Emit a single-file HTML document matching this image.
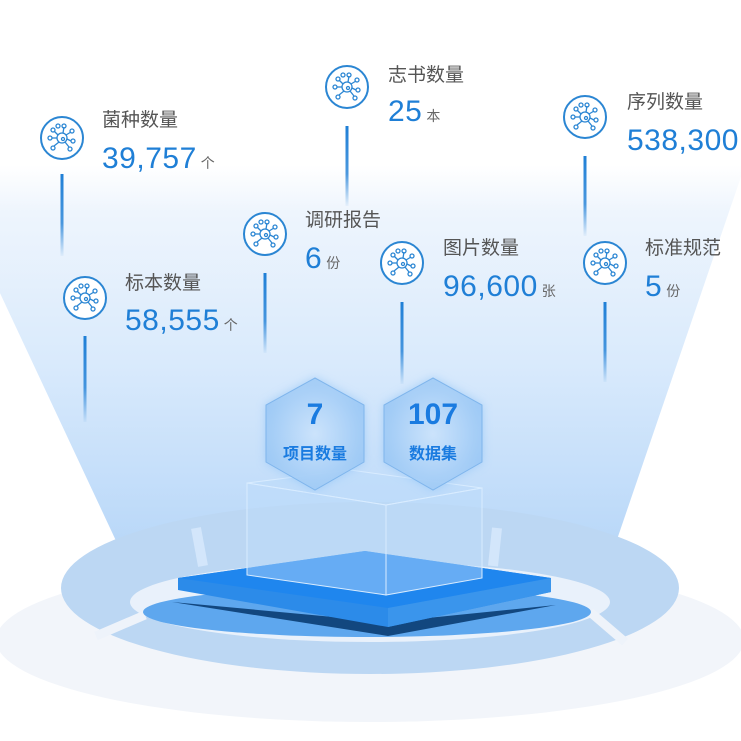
<!DOCTYPE html>
<html><head><meta charset="utf-8"><style>
body{margin:0;width:741px;height:741px;overflow:hidden;background:#fff;position:relative;font-family:"Liberation Sans","Noto Sans CJK SC",sans-serif}
svg{position:absolute;left:0;top:0}
.l{position:absolute;font-size:19px;color:#555;white-space:nowrap}
.v{position:absolute;font-size:30px;color:#1f7fd6;white-space:nowrap;letter-spacing:0.5px}
.v small{font-size:14px;color:#666;margin-left:4px}
</style></head><body>
<svg width="741" height="741" viewBox="0 0 741 741">
<defs>
<linearGradient id="beam" x1="0" y1="0" x2="0" y2="1">
<stop offset="0" stop-color="#ffffff"/><stop offset="0.12" stop-color="#eef5fd"/><stop offset="0.5" stop-color="#d9eafc"/><stop offset="1" stop-color="#b6d6f8"/></linearGradient>
<linearGradient id="ln" x1="0" y1="0" x2="0" y2="1"><stop offset="0" stop-color="#1f7fd6"/><stop offset="0.6" stop-color="#1f7fd6" stop-opacity="0.8"/><stop offset="1" stop-color="#1f7fd6" stop-opacity="0.05"/></linearGradient>
<radialGradient id="hx" cx="0.5" cy="0.5" r="0.6"><stop offset="0" stop-color="#d3e7fc"/><stop offset="1" stop-color="#94c4f4"/></radialGradient>
<filter id="gl"><feGaussianBlur stdDeviation="5"/></filter>
<g id="ic">
<circle r="21" fill="#fff" stroke="#2b86d3" stroke-width="2"/>
<g stroke="#2b86d3" stroke-width="1.3" fill="none">
<circle r="5"/><circle cx="1" cy="1" r="1.5"/>
<line x1="-4" y1="-3" x2="-8" y2="-7"/><line x1="1" y1="-5" x2="2" y2="-11"/><line x1="4" y1="-3" x2="9" y2="-6"/><line x1="5" y1="1" x2="9" y2="3"/><line x1="3" y1="4" x2="7" y2="9"/><line x1="-3" y1="4" x2="-8" y2="8"/><line x1="-5" y1="0" x2="-10" y2="0"/>
<circle cx="-9" cy="-8" r="2"/><circle cx="2" cy="-12" r="2"/><circle cx="10" cy="-7" r="2"/><circle cx="11" cy="3" r="2"/><circle cx="8" cy="11" r="2"/><circle cx="-9" cy="10" r="2"/><circle cx="-12" cy="0" r="2"/><circle cx="-4" cy="-12" r="2"/>
</g></g>
</defs>
<ellipse cx="370" cy="640" rx="374" ry="82" fill="#f2f5fa"/>
<polygon points="-60,165 745,165 610,560 125,560" fill="url(#beam)"/>
<ellipse cx="370" cy="602" rx="240" ry="40" fill="#e9f1fb"/>
<path fill-rule="evenodd" fill="#bcd7f3" d="M61,588 A309,86 0 1 0 679,588 A309,86 0 1 0 61,588 Z M130,602 A240,40 0 1 0 610,602 A240,40 0 1 0 130,602 Z"/>
<g stroke="#eef3fa" stroke-width="9">
<line x1="96" y1="636" x2="145" y2="615"/><line x1="590" y1="612" x2="625" y2="642"/>
</g>
<g stroke="#d3e6fb" stroke-width="10">
<line x1="196" y1="528" x2="203" y2="566"/><line x1="497" y1="528" x2="493" y2="566"/>
</g>
<ellipse cx="367" cy="612" rx="224" ry="25" fill="#5ea7ee"/>
<polygon points="172,602 388,636 556,605 388,622" fill="#12477f"/>
<polygon points="178,578 365,551 551,578 551,592 388,627 178,590" fill="#2c8be9"/>
<polygon points="178,578 365,551 551,578 388,608" fill="#1f86ee"/>
<polygon points="388,608 551,578 551,592 388,627" fill="#3a95ec"/>
<g fill="#bcdcfb" fill-opacity="0.45" stroke="#d9ecff" stroke-width="1">
<polygon points="247,483 350,470 482,488 386,505"/>
<polygon points="247,483 386,505 386,595 247,575"/>
<polygon points="386,505 482,488 482,578 386,595"/>
</g>
<g fill="#8fc3f7" opacity="0.7" filter="url(#gl)">
<polygon points="315,378 364,405 364,462 315,490 266,462 266,405"/>
<polygon points="433,378 482,405 482,462 433,490 384,462 384,405"/>
</g>
<g stroke="#7fb5ec" stroke-width="1" fill="url(#hx)" fill-opacity="0.85">
<polygon points="315,378 364,405 364,462 315,490 266,462 266,405"/>
<polygon points="433,378 482,405 482,462 433,490 384,462 384,405"/>
</g>
<g fill="url(#ln)">
<rect x="60.5" y="174" width="3" height="82"/><rect x="83.5" y="336" width="3" height="86"/>
<rect x="263.5" y="273" width="3" height="80"/><rect x="345.5" y="126" width="3" height="80"/>
<rect x="400.5" y="302" width="3" height="82"/><rect x="583.5" y="156" width="3" height="80"/>
<rect x="603.5" y="302" width="3" height="80"/>
</g>
<use href="#ic" x="62" y="138"/><use href="#ic" x="85" y="298"/><use href="#ic" x="265" y="234"/>
<use href="#ic" x="347" y="87"/><use href="#ic" x="402" y="263"/><use href="#ic" x="585" y="117"/><use href="#ic" x="605" y="263"/>
</svg>
<div class="l" style="left:102px;top:105px">菌种数量</div><div class="v" style="left:102px;top:142px">39,757<small>个</small></div>
<div class="l" style="left:125px;top:268px">标本数量</div><div class="v" style="left:125px;top:304px">58,555<small>个</small></div>
<div class="l" style="left:305px;top:205px">调研报告</div><div class="v" style="left:305px;top:242px">6<small>份</small></div>
<div class="l" style="left:388px;top:60px">志书数量</div><div class="v" style="left:388px;top:95px">25<small>本</small></div>
<div class="l" style="left:443px;top:233px">图片数量</div><div class="v" style="left:443px;top:270px">96,600<small>张</small></div>
<div class="l" style="left:627px;top:87px">序列数量</div><div class="v" style="left:627px;top:124px">538,300</div>
<div class="l" style="left:645px;top:233px">标准规范</div><div class="v" style="left:645px;top:270px">5<small>份</small></div>
<div style="position:absolute;left:266px;top:398px;width:98px;text-align:center;color:#1a7be0;font-weight:bold;font-size:30px">7</div>
<div style="position:absolute;left:266px;top:440px;width:98px;text-align:center;color:#1a7be0;font-weight:bold;font-size:16px">项目数量</div>
<div style="position:absolute;left:384px;top:398px;width:98px;text-align:center;color:#1a7be0;font-weight:bold;font-size:30px">107</div>
<div style="position:absolute;left:384px;top:440px;width:98px;text-align:center;color:#1a7be0;font-weight:bold;font-size:16px">数据集</div>
</body></html>
